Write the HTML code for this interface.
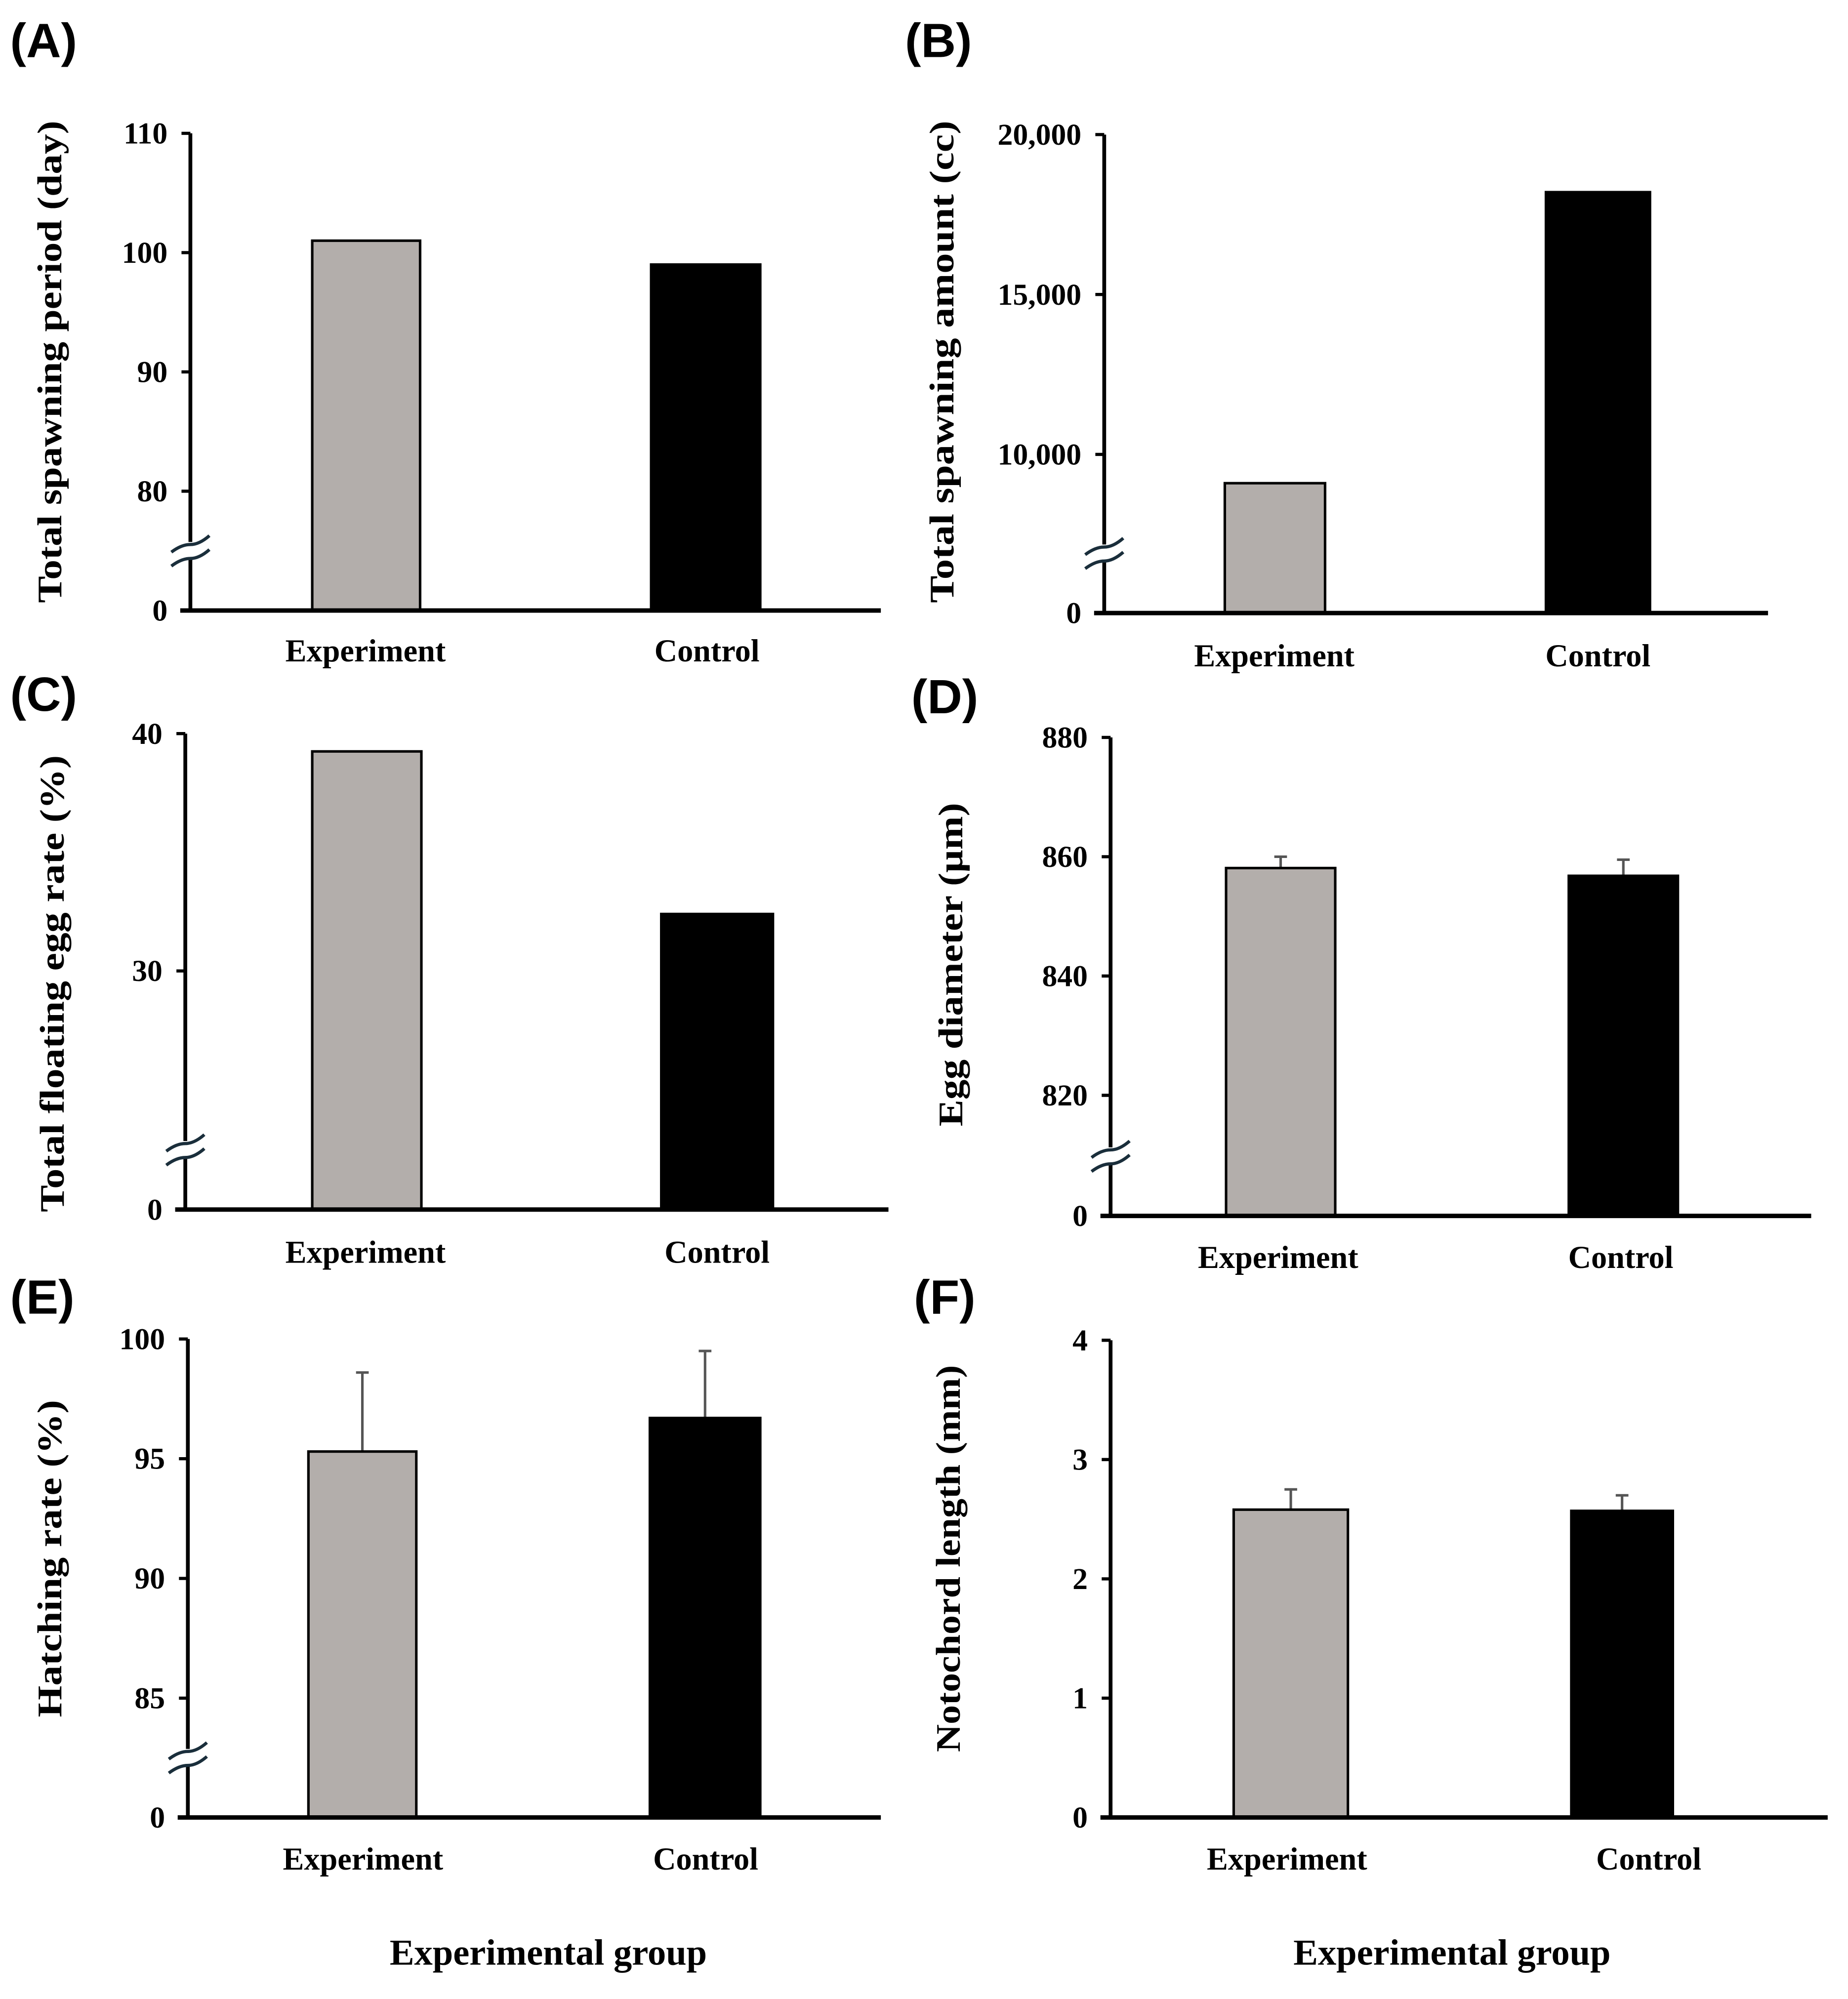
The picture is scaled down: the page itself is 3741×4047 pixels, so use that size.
<!DOCTYPE html>
<html><head><meta charset="utf-8"><style>
html,body{margin:0;padding:0;background:#fff;}
svg{display:block;}
text{font-family:"Liberation Serif",serif;font-weight:bold;fill:#000;}
.lbl{font-family:"Liberation Sans",sans-serif;}
</style></head><body>
<svg id="fig" width="3741" height="4047" viewBox="0 0 1456 1575" xmlns="http://www.w3.org/2000/svg"></svg>
<script>
const categories = ["Experiment", "Control"];
const valuesA = [101, 99];
const valuesB = [9100, 18200];
const valuesC = [39.25, 32.4];
const valuesD = [858.1, 856.8];
const errD = [1.9, 2.7];
const valuesE = [95.3, 96.7];
const errE = [3.3, 2.8];
const valuesF = [2.58, 2.57];
const errF = [0.17, 0.13];
const ticksA = [80, 90, 100, 110];
const ticksB = [10000, 15000, 20000];
const ticksC = [30, 40];
const ticksD = [820, 840, 860, 880];
const ticksE = [85, 90, 95, 100];
const ticksF = [0, 1, 2, 3, 4];

const NS = "http://www.w3.org/2000/svg";
const svg = document.getElementById('fig');
function mk(tag, attrs, parent){const e=document.createElementNS(NS,tag);for(const k in attrs)e.setAttribute(k,attrs[k]);(parent||svg).appendChild(e);return e;}
function fmt(v){return v>=1000? v.toLocaleString('en-US'):String(v);}

const panels = [
 {id:'a',letter:'(A)',lx:8,ly:45,ax:150,right:694,base:481,lo:80,hi:110,yLo:387,yHi:105,brk:true,vals:valuesA,err:null,ticks:ticksA,bars:[[246,331],[513,599]],title:'Total spawning period (day)',tx:42,ty:285,tl:380,catY:521,catX:[288,557]},
 {id:'b',letter:'(B)',lx:713,ly:45,ax:870,right:1393,base:483,lo:10000,hi:20000,yLo:358,yHi:106,brk:true,vals:valuesB,err:null,ticks:ticksB,bars:[[965,1044],[1218,1300]],title:'Total spawning amount (cc)',tx:745,ty:285,tl:380,catY:525,catX:[1004,1259]},
 {id:'c',letter:'(C)',lx:8,ly:560,ax:146,right:700,base:953,lo:30,hi:40,yLo:765,yHi:578,brk:true,vals:valuesC,err:null,ticks:ticksC,bars:[[246,332],[521,609]],title:'Total floating egg rate (%)',tx:44,ty:775,tl:360,catY:995,catX:[288,565]},
 {id:'d',letter:'(D)',lx:718,ly:562,ax:875,right:1427,base:958,lo:820,hi:880,yLo:863,yHi:581,brk:true,vals:valuesD,err:errD,ticks:ticksD,bars:[[966,1052],[1236,1322]],title:'Egg diameter (\u00b5m)',tx:752,ty:760,tl:255,catY:999,catX:[1007,1277]},
 {id:'e',letter:'(E)',lx:8,ly:1035,ax:148,right:694,base:1432,lo:85,hi:100,yLo:1338,yHi:1055,brk:true,vals:valuesE,err:errE,ticks:ticksE,bars:[[243,328],[512,599]],title:'Hatching rate (%)',tx:42,ty:1228,tl:250,catY:1473,catX:[286,556]},
 {id:'f',letter:'(F)',lx:720,ly:1035,ax:875,right:1440,base:1432,lo:0,hi:4,yLo:1432,yHi:1056,brk:false,vals:valuesF,err:errF,ticks:ticksF,bars:[[972,1062],[1238,1318]],title:'Notochord length (mm)',tx:750,ty:1228,tl:305,catY:1473,catX:[1014,1299]}
];
const fills = ['#b3aeab','#000'];

panels.forEach(p=>{
  const g = mk('g',{});
  
  
  const y = v => p.yLo + (v-p.lo)/(p.hi-p.lo)*(p.yHi-p.yLo);
  const L = mk('text',{x:p.lx,y:p.ly,'font-size':38,class:'lbl'},g); L.textContent=p.letter;
  
  
  const T = mk('text',{x:0,y:0,'font-size':27,'text-anchor':'middle',textLength:p.tl,lengthAdjust:'spacingAndGlyphs',transform:`translate(${p.tx},${p.ty}) rotate(-90)`,'dominant-baseline':'middle'},g);
  T.textContent=p.title;
  
  
  p.vals.forEach((v,i)=>{
    const [x0,x1]=p.bars[i]; const top=y(v);
    if(p.err){
      const et=y(v+p.err[i]); const cx=(x0+x1)/2;
      const el=mk('path',{d:`M${cx},${top}V${et}M${cx-5},${et}H${cx+5}`,stroke:'#555',"stroke-width":2,fill:'none'},g);
      
      
    }
    const r=mk('rect',{x:x0,y:top,width:x1-x0,height:p.base-top,fill:fills[i],stroke:'#000','stroke-width':2},g);
    
    
    const c=mk('text',{x:p.catX[i],y:p.catY,'font-size':25,'text-anchor':'middle'},g); c.textContent=categories[i];
    
    
  });
  const ya=mk('line',{x1:p.ax,y1:p.yHi,x2:p.ax,y2:p.base+1.5,stroke:'#000','stroke-width':3},g);
  
  
  const xa=mk('line',{x1:p.ax-8,y1:p.base,x2:p.right,y2:p.base,stroke:'#000','stroke-width':3.5},g);
  
  
  p.ticks.forEach(t=>{
    const ty=y(t);
    mk('line',{x1:p.ax-7,y1:ty,x2:p.ax,y2:ty,stroke:'#000','stroke-width':2.5},g);
    const tl=mk('text',{x:p.ax-18,y:ty+8,'font-size':24,'text-anchor':'end'},g); tl.textContent=fmt(t);
    
    
  });
  if(p.brk){
    const zl=mk('text',{x:p.ax-18,y:p.base+8,'font-size':24,'text-anchor':'end'},g); zl.textContent='0';
    
    
    const by=p.base-45;
    mk('rect',{x:p.ax-4,y:by-9,width:8,height:14,fill:'#fff'},g);
    const b=mk('path',{d:`M${p.ax-15},${by-1} q8,-6 15,-6 t15,-7 M${p.ax-15},${by+10} q8,-6 15,-6 t15,-7`,stroke:'#1a2e3b','stroke-width':2.5,fill:'none'},g);
    
    
  }
});
[[432,'x-axis-title-left'],[1144,'x-axis-title-right']].forEach(([x,n])=>{
  const t=mk('text',{x:x,y:1548,'font-size':29,'text-anchor':'middle'}); t.textContent='Experimental group';
  
  
});
</script>
</body></html>
